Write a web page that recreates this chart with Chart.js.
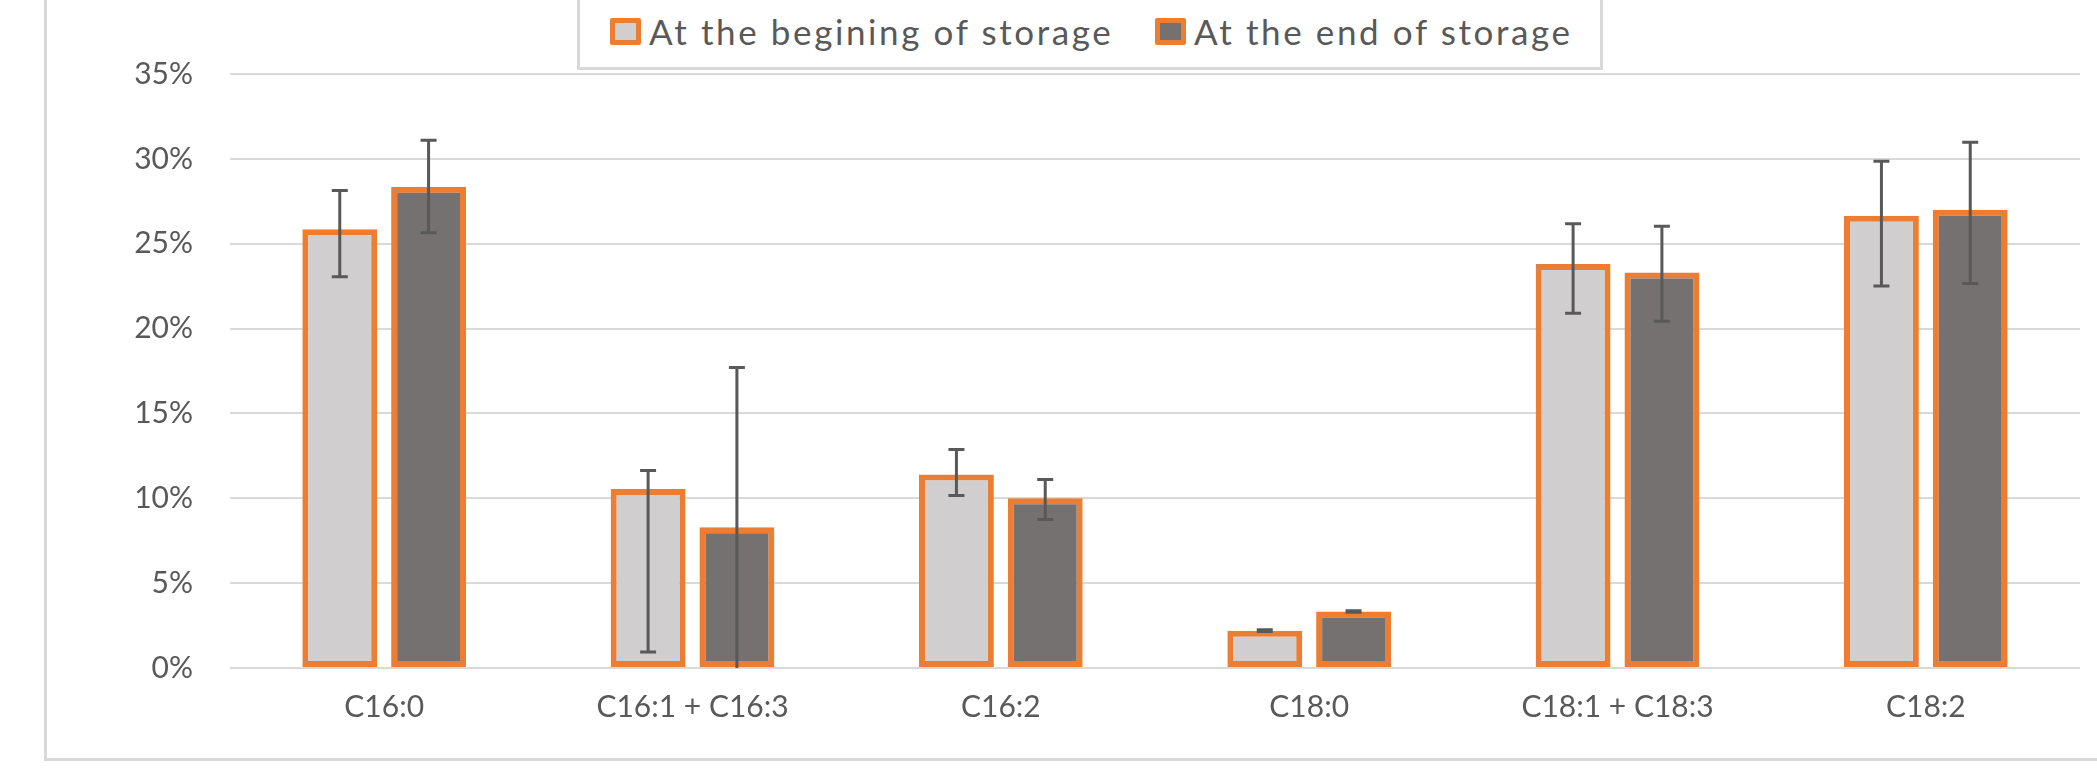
<!DOCTYPE html>
<html>
<head>
<meta charset="utf-8">
<script src="https://cdn.jsdelivr.net/npm/chart.js@4.4.1/dist/chart.umd.min.js"></script>
<style>
  html, body { margin: 0; padding: 0; background: #fff; }
  #wrap { position: relative; width: 2097px; height: 771px; overflow: hidden; }
  #frame {
    position: absolute; left: 44px; top: -20px; width: 2120px; height: 781px;
    border: 3px solid #d9d9d9; box-sizing: border-box;
  }
  #legendBox {
    position: absolute; left: 577px; top: -20px; width: 1026px; height: 90px;
    border: 3px solid #d9d9d9; box-sizing: border-box; background: #fff;
  }
  .legend-item {
    position: absolute; top: 0; height: 60px; display: flex; align-items: center;
    font-family: "Lato", sans-serif; font-size: 35px; color: #595959;
    white-space: nowrap; letter-spacing: 2.6px;
  }
  .legend-item .mark {
    width: 31px; height: 27px; box-sizing: border-box; border: 5px solid #ed7d31;
    border-radius: 2px; margin-right: 8px; flex: none;
  }
  canvas { position: absolute; left: 0; top: 0; }
</style>
</head>
<body>
<div id="wrap">
  <div id="frame"></div>
  <canvas id="chart" width="2097" height="771"></canvas>
  <div id="legendBox"></div>
</div>
<script>
// ==============================
// データ
// ==============================
const categories = ["C16:0", "C16:1 + C16:3", "C16:2", "C18:0", "C18:1 + C18:3", "C18:2"];

const seriesNames = ["At the begining of storage", "At the end of storage"];

// 値（%）
const beginValues = [25.85, 10.55, 11.4, 2.2, 23.8, 26.65];
const endValues   = [28.35, 8.3, 10.0, 3.33, 23.3, 27.0];

// 誤差範囲（+ / -）
const beginPlus  = [2.28, 1.09, 1.48, 0.05, 2.38, 3.21];
const beginMinus = [2.79, 9.6, 1.23, 0.05, 2.9, 4.14];
const endPlus    = [2.75, 9.41, 1.1, 0.05, 2.73, 3.98];
const endMinus   = [2.7, 9.75, 1.25, 0.05, 2.87, 4.34];

const yTicks = [0, 5, 10, 15, 20, 25, 30, 35];

const fillColors = ["#d0cece", "#767171"];
const edgeColor = "#ed7d31";
const textColor = "#595959";

// ==============================
// 凡例（HTML）
// ==============================
const legendBox = document.getElementById("legendBox");
const legendLeft = [610 - 577, 1155 - 577];
seriesNames.forEach((name, i) => {
  const item = document.createElement("div");
  item.className = "legend-item";
  item.style.left = (legendLeft[i] - 3) + "px";
  item.style.top = "18px";
  const mark = document.createElement("span");
  mark.className = "mark";
  mark.style.backgroundColor = fillColors[i];
  const label = document.createElement("span");
  label.textContent = name;
  item.appendChild(mark);
  item.appendChild(label);
  legendBox.appendChild(item);
});

// ==============================
// 誤差棒プラグイン
// ==============================
const errorBars = {
  id: "errorBars",
  afterDatasetsDraw(chart) {
    const { ctx, chartArea, scales } = chart;
    const y = scales.y;
    ctx.save();
    ctx.beginPath();
    ctx.rect(chartArea.left, chartArea.top, chartArea.right - chartArea.left, chartArea.bottom - chartArea.top);
    ctx.clip();
    ctx.strokeStyle = textColor;
    ctx.lineWidth = 3;
    chart.data.datasets.forEach((ds, di) => {
      const meta = chart.getDatasetMeta(di);
      meta.data.forEach((bar, i) => {
        const v = ds.data[i];
        const top = y.getPixelForValue(v + ds.errPlus[i]);
        const bot = y.getPixelForValue(v - ds.errMinus[i]);
        const x = bar.x;
        ctx.beginPath();
        ctx.moveTo(x, top);
        ctx.lineTo(x, bot);
        ctx.moveTo(x - 8, top);
        ctx.lineTo(x + 8, top);
        ctx.moveTo(x - 8, bot);
        ctx.lineTo(x + 8, bot);
        ctx.stroke();
      });
    });
    ctx.restore();
  }
};

// ==============================
// グラフ
// ==============================
new Chart(document.getElementById("chart"), {
  type: "bar",
  data: {
    labels: categories,
    datasets: [
      {
        label: seriesNames[0],
        data: beginValues,
        errPlus: beginPlus,
        errMinus: beginMinus,
        backgroundColor: fillColors[0],
        borderColor: edgeColor,
        borderWidth: 6,
        borderSkipped: false
      },
      {
        label: seriesNames[1],
        data: endValues,
        errPlus: endPlus,
        errMinus: endMinus,
        backgroundColor: fillColors[1],
        borderColor: edgeColor,
        borderWidth: 6,
        borderSkipped: false
      }
    ]
  },
  options: {
    responsive: false,
    devicePixelRatio: 1,
    animation: false,
    categoryPercentage: 0.576,
    barPercentage: 0.843,
    layout: { padding: { top: 74, right: 17, left: 0, bottom: 0 } },
    scales: {
      x: {
        grid: { display: false, drawTicks: false },
        border: { display: false },
        ticks: {
          color: textColor,
          font: { family: "Lato", size: 30 },
          padding: 21,
          maxRotation: 0
        },
        afterFit(scale) { scale.height = 103; }
      },
      y: {
        min: 0,
        max: 35,
        afterBuildTicks(scale) { scale.ticks = yTicks.map(v => ({ value: v })); },
        grid: { color: "#d9d9d9", lineWidth: 2, drawTicks: false },
        border: { display: false },
        ticks: {
          color: textColor,
          font: { family: "Lato", size: 30 },
          padding: 37,
          callback: v => v + "%"
        },
        afterFit(scale) { scale.width = 230; }
      }
    },
    plugins: {
      legend: { display: false },
      tooltip: { enabled: false }
    }
  },
  plugins: [errorBars]
});
</script>
</body>
</html>
